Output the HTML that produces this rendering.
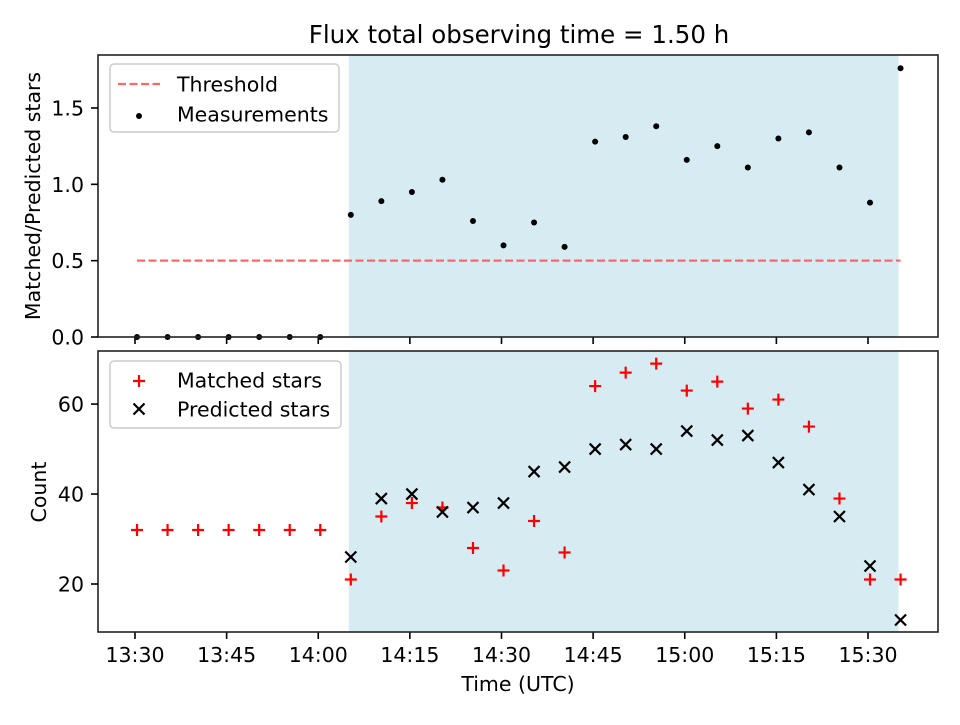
<!DOCTYPE html>
<html><head><meta charset="utf-8">
<style>
body{margin:0;background:#fff;}
svg{font-family:"DejaVu Sans","Liberation Sans",sans-serif;}
</style></head>
<body>
<svg id="c" width="960" height="720" xmlns="http://www.w3.org/2000/svg">
<rect width="960" height="720" fill="#fff"/>
<text x="519" y="43" font-size="24.5" text-anchor="middle">Flux total observing time = 1.50 h</text>
<g id="topg"></g>
<g id="botg"></g>
</svg>
<script>
const ratios=[0,0,0,0,0,0,0,0.80,0.89,0.95,1.03,0.76,0.60,0.75,0.59,1.28,1.31,1.38,1.16,1.25,1.11,1.30,1.34,1.11,0.88,1.76];
const matched=[32,32,32,32,32,32,32,21,35,38,37,28,23,34,27,64,67,69,63,65,59,61,55,39,21,21];
const predicted=[null,null,null,null,null,null,null,26,39,40,36,37,38,45,46,50,51,50,54,52,53,47,41,35,24,12];
const startMin=810.33, stepMin=5;
const xTickLabels=["13:30","13:45","14:00","14:15","14:30","14:45","15:00","15:15","15:30"];
const xTickMins=[810,825,840,855,870,885,900,915,930];
const shadeRange=[845,935];
const threshold=0.5;
const topTicks=[0,0.5,1.0,1.5];
const botTicks=[20,40,60];

const NS="http://www.w3.org/2000/svg";
const L=98,R=938;
const FS=20.5;
const X=m=>135+(m-810)*(733/120);
const TY0=337,TY1=55,TYmax=1.847;
const ty=v=>TY0-v*(TY0-TY1)/TYmax;
const BY0=632,BY1=351,Bmin=9.33,Bmax=71.8;
const by=v=>BY0-(v-Bmin)*(BY0-BY1)/(Bmax-Bmin);
function el(p,t,a){const e=document.createElementNS(NS,t);for(const k in a)e.setAttribute(k,a[k]);p.appendChild(e);return e;}
const gTop=document.getElementById('topg'),gBot=document.getElementById('botg');

function frame(g,y0,y1,labels){
  let s=el(g,'rect',{x:X(shadeRange[0]),y:y1,width:X(shadeRange[1])-X(shadeRange[0]),height:y0-y1,fill:'#add8e6','fill-opacity':0.5});
  
  
  xTickMins.forEach((m,i)=>{
    el(g,'line',{x1:X(m),x2:X(m),y1:y0,y2:y0+7,stroke:'#000','stroke-width':1.6});
    if(labels){const t=el(g,'text',{x:X(m),y:y0+30,'font-size':FS,'text-anchor':'middle'});t.textContent=xTickLabels[i];
      
      }
  });
}
function border(g,y0,y1,name){
  const r=el(g,'rect',{x:L,y:y1,width:R-L,height:y0-y1,fill:'none',stroke:'#222','stroke-width':1.6});
  
  
}
function yticks(g,ticks,fy,fmt){
  ticks.forEach(v=>{el(g,'line',{x1:L-7,x2:L,y1:fy(v),y2:fy(v),stroke:'#000','stroke-width':1.6});
    const t=el(g,'text',{x:L-14,y:fy(v)+7.5,'font-size':FS,'text-anchor':'end'});t.textContent=fmt(v);
    
    });
}
// top
frame(gTop,TY0,TY1,false);
let th=el(gTop,'line',{x1:X(startMin),x2:X(startMin+stepMin*25),y1:ty(threshold),y2:ty(threshold),stroke:'#ff6666','stroke-width':2.2,'stroke-dasharray':'8,3.5'});


ratios.forEach((v,i)=>{const c=el(gTop,'circle',{cx:X(startMin+i*stepMin),cy:ty(v),r:3,fill:'#000'});
  
  });
border(gTop,TY0,TY1,'top-axes');
yticks(gTop,topTicks,ty,v=>v.toFixed(1));
let yl=el(gTop,'text',{x:40,y:196,'font-size':FS,'text-anchor':'middle',transform:'rotate(-90 40 196)'});yl.textContent='Matched/Predicted stars';


let lg=el(gTop,'g',{});


el(lg,'rect',{x:110,y:64,width:229,height:68,rx:4,fill:'#fff','fill-opacity':0.8,stroke:'#ccc','stroke-width':1.5});
el(lg,'line',{x1:118,x2:160,y1:84,y2:84,stroke:'#ff6666','stroke-width':2.2,'stroke-dasharray':'8,3.5'});
el(lg,'circle',{cx:139,cy:116,r:3,fill:'#000'});
let t1=el(lg,'text',{x:177,y:91.5,'font-size':FS});t1.textContent='Threshold';
let t2=el(lg,'text',{x:177,y:121.5,'font-size':FS});t2.textContent='Measurements';
// bottom
frame(gBot,BY0,BY1,true);
matched.forEach((v,i)=>{const x=X(startMin+i*stepMin),y=by(v);
  const p=el(gBot,'path',{d:`M${x-6},${y}H${x+6}M${x},${y-6}V${y+6}`,stroke:'#ff0000','stroke-width':2.2});
  
  });
predicted.forEach((v,i)=>{if(v==null)return;const x=X(startMin+i*stepMin),y=by(v);
  const p=el(gBot,'path',{d:`M${x-5.5},${y-5.5}L${x+5.5},${y+5.5}M${x-5.5},${y+5.5}L${x+5.5},${y-5.5}`,stroke:'#000','stroke-width':2.2});
  
  });
border(gBot,BY0,BY1,'bottom-axes');
yticks(gBot,botTicks,by,v=>String(v));
let yl2=el(gBot,'text',{x:46,y:492,'font-size':FS,'text-anchor':'middle',transform:'rotate(-90 46 492)'});yl2.textContent='Count';


let xl=el(gBot,'text',{x:518,y:691,'font-size':FS,'text-anchor':'middle'});xl.textContent='Time (UTC)';


let lg2=el(gBot,'g',{});


el(lg2,'rect',{x:110,y:361,width:231,height:67,rx:4,fill:'#fff','fill-opacity':0.8,stroke:'#ccc','stroke-width':1.5});
el(lg2,'path',{d:'M133,381H145M139,375V387',stroke:'#ff0000','stroke-width':2.2});
el(lg2,'path',{d:'M133.5,403.5L144.5,414.5M133.5,414.5L144.5,403.5',stroke:'#000','stroke-width':2.2});
let t3=el(lg2,'text',{x:177,y:387.5,'font-size':FS});t3.textContent='Matched stars';
let t4=el(lg2,'text',{x:177,y:416.5,'font-size':FS});t4.textContent='Predicted stars';
</script>
</body></html>
